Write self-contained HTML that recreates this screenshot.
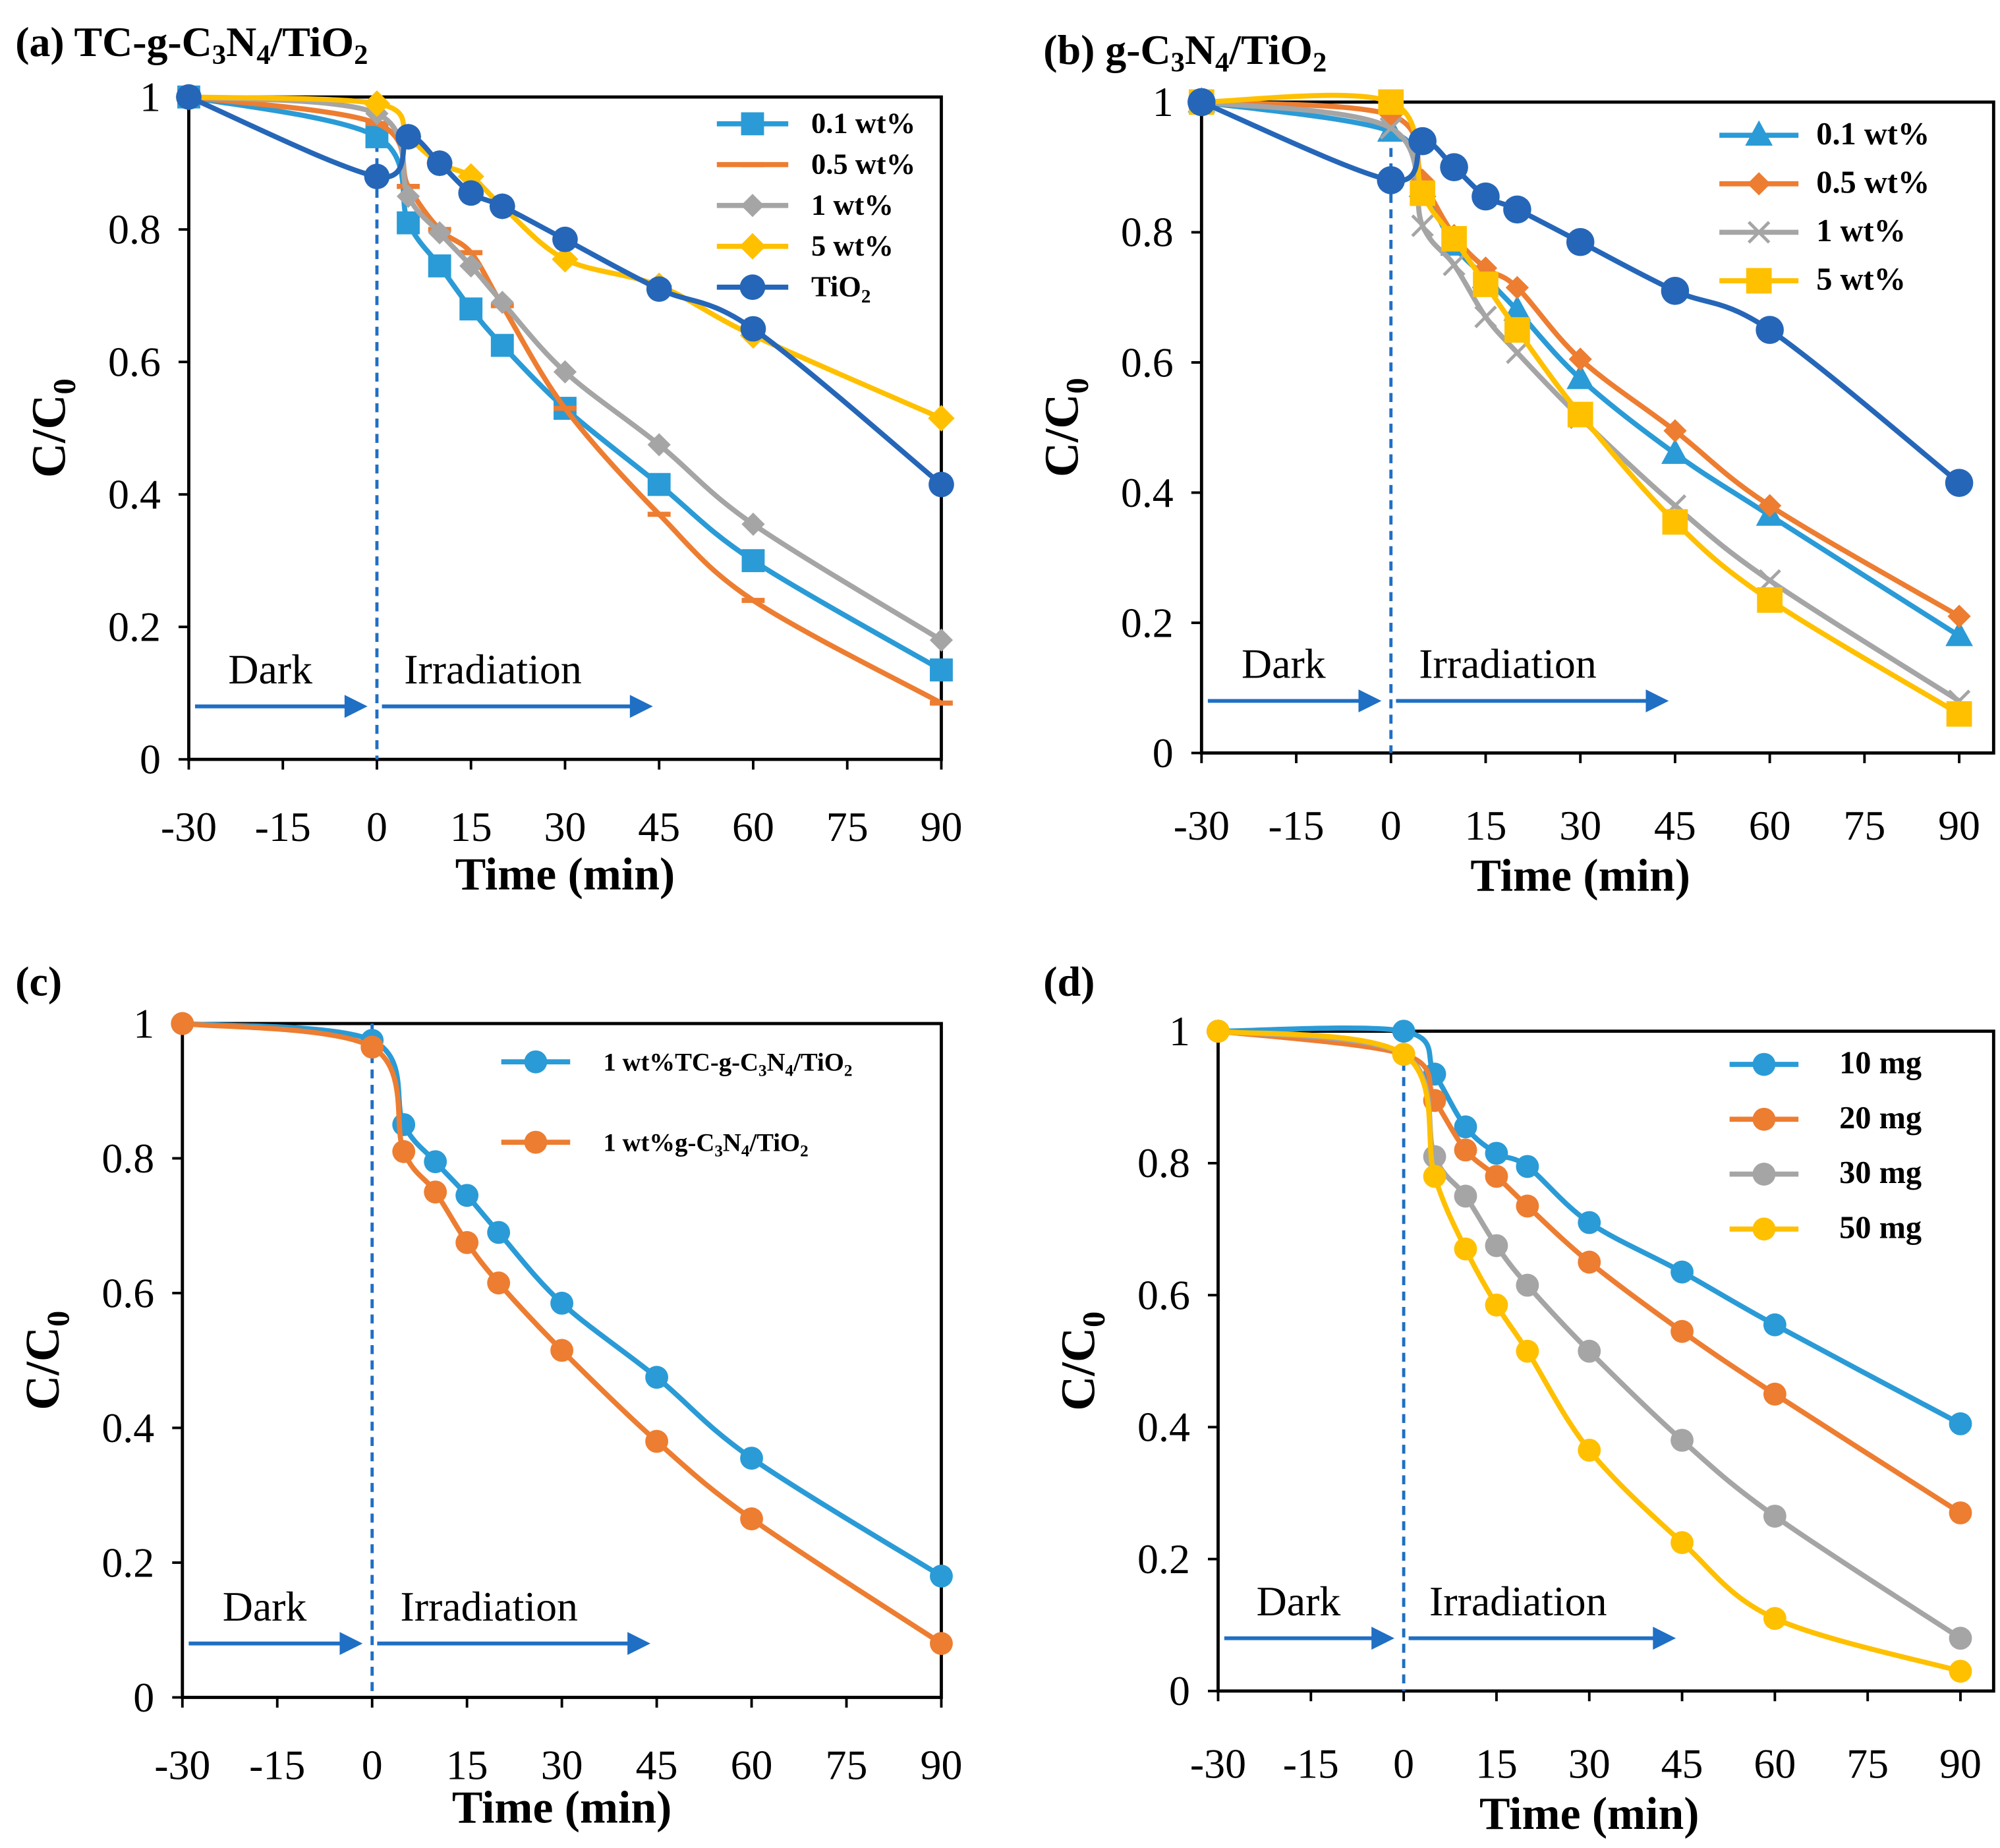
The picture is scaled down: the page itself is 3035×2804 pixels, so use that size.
<!DOCTYPE html>
<html><head><meta charset="utf-8"><style>
html,body{margin:0;padding:0;background:#fff;}
svg{display:block;}
text{font-family:"Liberation Serif",serif;fill:#000;}
</style></head><body>
<svg id="fig" width="3035" height="2804" viewBox="0 0 1568 1448" preserveAspectRatio="none" xmlns="http://www.w3.org/2000/svg"></svg>
<script>
const times = [-30, 0, 5, 10, 15, 20, 30, 45, 60, 90];
const xTicks = [-30, -15, 0, 15, 30, 45, 60, 75, 90];
const yTicks = [0, 0.2, 0.4, 0.6, 0.8, 1];
const yTickLabels = ["0", "0.2", "0.4", "0.6", "0.8", "1"];

const a01 = [1, 0.94, 0.81, 0.745, 0.68, 0.625, 0.53, 0.415, 0.30, 0.135];
const a05 = [1, 0.96, 0.865, 0.80, 0.765, 0.685, 0.53, 0.37, 0.24, 0.085];
const a1 = [1, 0.975, 0.85, 0.795, 0.745, 0.69, 0.585, 0.475, 0.355, 0.18];
const a5 = [1, 0.99, 0.94, 0.90, 0.88, 0.835, 0.755, 0.715, 0.64, 0.515];
const tio2 = [1, 0.88, 0.94, 0.90, 0.855, 0.835, 0.785, 0.71, 0.65, 0.415];

const b01 = [1, 0.955, 0.87, 0.78, 0.73, 0.68, 0.575, 0.46, 0.365, 0.18];
const b05 = [1, 0.98, 0.88, 0.795, 0.745, 0.715, 0.605, 0.495, 0.38, 0.21];
const b1 = [1, 0.96, 0.81, 0.75, 0.67, 0.615, 0.515, 0.38, 0.265, 0.08];
const b5 = [1, 1.0, 0.86, 0.79, 0.72, 0.65, 0.52, 0.355, 0.235, 0.06];

const cTC = [1, 0.975, 0.85, 0.795, 0.745, 0.69, 0.585, 0.475, 0.355, 0.18];
const cG = [1, 0.965, 0.81, 0.75, 0.675, 0.615, 0.515, 0.38, 0.265, 0.08];

const d10 = [1, 1.0, 0.935, 0.855, 0.815, 0.795, 0.71, 0.635, 0.555, 0.405];
const d20 = [1, 0.965, 0.895, 0.82, 0.78, 0.735, 0.65, 0.545, 0.45, 0.27];
const d30 = [1, 0.965, 0.81, 0.75, 0.675, 0.615, 0.515, 0.38, 0.265, 0.08];
const d50 = [1, 0.965, 0.78, 0.67, 0.585, 0.515, 0.365, 0.225, 0.11, 0.03];

const BLUE="#2a9bd6", ORANGE="#ed7d31", GRAY="#a5a5a5", YELLOW="#ffc000", DBLUE="#2566b8";
const NS="http://www.w3.org/2000/svg";
const svg=document.getElementById('fig');
function el(tag,attrs,parent){const e=document.createElementNS(NS,tag);for(const k in attrs)e.setAttribute(k,attrs[k]);(parent||svg).appendChild(e);return e;}

function smoothPath(pts){
  let d="M"+pts[0][0]+","+pts[0][1];
  for(let i=0;i<pts.length-1;i++){
    const p0=pts[Math.max(0,i-1)],p1=pts[i],p2=pts[i+1],p3=pts[Math.min(pts.length-1,i+2)];
    const t=6;
    const c1=[p1[0]+(p2[0]-p0[0])/t,p1[1]+(p2[1]-p0[1])/t];
    const c2=[p2[0]-(p3[0]-p1[0])/t,p2[1]-(p3[1]-p1[1])/t];
    d+=` C${c1[0]},${c1[1]} ${c2[0]},${c2[1]} ${p2[0]},${p2[1]}`;
  }
  return d;
}
function marker(g,type,x,y,c,s){
  let m;
  if(type==="square") m=el('rect',{x:x-s,y:y-s,width:2*s,height:2*s,fill:c},g);
  else if(type==="circle") m=el('circle',{cx:x,cy:y,r:s,fill:c},g);
  else if(type==="diamond") m=el('polygon',{points:`${x},${y-s*1.3} ${x+s*1.3},${y} ${x},${y+s*1.3} ${x-s*1.3},${y}`,fill:c},g);
  else if(type==="triangle") m=el('polygon',{points:`${x},${y-s*1.3} ${x+s*1.2},${y+s*0.9} ${x-s*1.2},${y+s*0.9}`,fill:c},g);
  else if(type==="dash") m=el('rect',{x:x-s,y:y-2,width:2*s,height:4,fill:c},g);
  else if(type==="x"){m=el('path',{d:`M${x-s},${y-s}L${x+s},${y+s}M${x-s},${y+s}L${x+s},${y-s}`,stroke:c,'stroke-width':2.5,fill:'none'},g);}
  
  
}

function panel(cfg){
  const g=el('g',{});
  
  
  const X=v=>cfg.x0+(v+30)/120*(cfg.x1-cfg.x0);
  const Y=v=>cfg.y0-v*(cfg.y0-cfg.y1);
  const fr=el('rect',{x:cfg.x0,y:cfg.y1,width:cfg.fr-cfg.x0,height:cfg.y0-cfg.y1,fill:'none',stroke:'#000','stroke-width':2.5},g);
  
  xTicks.forEach(t=>{
    const tk=el('line',{x1:X(t),x2:X(t),y1:cfg.y0,y2:cfg.y0+8,stroke:'#000','stroke-width':2},g);
    
    const tx=el('text',{x:X(t),y:cfg.y0+cfg.xlOff,'font-size':33,'text-anchor':'middle'},g);tx.textContent=t;
    
  });
  yTicks.forEach((t,i)=>{
    const tk=el('line',{x1:cfg.x0-8,x2:cfg.x0,y1:Y(t),y2:Y(t),stroke:'#000','stroke-width':2},g);
    
    const tx=el('text',{x:cfg.x0-22,y:Y(t)+11,'font-size':33,'text-anchor':'end'},g);tx.textContent=yTickLabels[i];
    
  });
  const xt=el('text',{x:(cfg.x0+cfg.x1)/2,y:cfg.y0+cfg.xtOff,'font-size':36,'font-weight':'bold','text-anchor':'middle'},g);
  xt.textContent='Time (min)';
  const yc=(cfg.y0+cfg.y1)/2, yx=cfg.x0-97;
  const yt=el('text',{x:yx,y:yc,'font-size':38,'font-weight':'bold','text-anchor':'middle',transform:`rotate(-90 ${yx} ${yc})`},g);
  yt.innerHTML='C/C<tspan font-size="25" dy="8">0</tspan>';
  
  const pt=el('text',{x:cfg.tx,y:cfg.ty,'font-size':33,'font-weight':'bold'},g);
  pt.innerHTML=cfg.title;
  const dl=el('line',{x1:X(0),x2:X(0),y1:Y(1),y2:cfg.y0,stroke:'#1f6fc4','stroke-width':2.5,'stroke-dasharray':'7,5'},g);
  
  const ay=Y(0.08)+cfg.arrOff;
  [[-29,-1.5,'dark-arrow'],[0.8,44,'irradiation-arrow']].forEach(([a,b,n])=>{
    const ln=el('line',{x1:X(a),x2:X(b)-14,y1:ay,y2:ay,stroke:'#1f6fc4','stroke-width':3},g);
    
    const hd=el('polygon',{points:`${X(b)},${ay} ${X(b)-18},${ay-9} ${X(b)-18},${ay+9}`,fill:'#1f6fc4'},g);
    
  });
  const dk=el('text',{x:X(-17),y:ay-18,'font-size':33,'text-anchor':'middle'},g);dk.textContent='Dark';
  
  const ir=el('text',{x:X(18.5),y:ay-18,'font-size':33,'text-anchor':'middle'},g);ir.textContent='Irradiation';
  
  cfg.series.forEach(s=>{
    const sg=el('g',{},g);
    const pts=times.map((t,i)=>[X(t),Y(s.vals[i])]);
    const p=el('path',{d:smoothPath(pts),fill:'none',stroke:s.c,'stroke-width':4},sg);
    
    pts.forEach(q=>marker(sg,s.m,q[0],q[1],s.c,s.sz));
  });
  const L=cfg.leg;
  cfg.series.filter(s=>!s.noLeg).forEach((s,i)=>{
    const ly=L.y+i*L.dy;
    const lg=el('g',{},g);
    el('line',{x1:L.x,x2:L.x+L.w,y1:ly,y2:ly,stroke:s.c,'stroke-width':4},lg);
    marker(lg,s.m,L.x+L.w/2,ly,s.c,s.sz);
    const t=el('text',{x:L.x+L.w+L.gap,y:ly+7,'font-size':L.fs,'font-weight':'bold'},lg);t.innerHTML=s.label;
  });
}

panel({name:'panel-a',x0:148,x1:738,fr:738,y0:595,y1:76,xlOff:64,xtOff:102,arrOff:0,tx:12,ty:44,
  title:'(a) TC-g-C<tspan font-size="22" dy="6">3</tspan><tspan dy="-6">N</tspan><tspan font-size="22" dy="6">4</tspan><tspan dy="-6">/TiO</tspan><tspan font-size="22" dy="6">2</tspan>',
  leg:{x:562,y:97,dy:32,w:56,gap:18,fs:23},
  series:[
   {name:'series-0.1wt',vals:a01,c:BLUE,m:'square',sz:9,label:'0.1 wt%'},
   {name:'series-0.5wt',vals:a05,c:ORANGE,m:'dash',sz:9,label:'0.5 wt%'},
   {name:'series-1wt',vals:a1,c:GRAY,m:'diamond',sz:7,label:'1 wt%'},
   {name:'series-5wt',vals:a5,c:YELLOW,m:'diamond',sz:8,label:'5 wt%'},
   {name:'series-tio2',vals:tio2,c:DBLUE,m:'circle',sz:10,label:'TiO<tspan font-size="15" dy="5">2</tspan>'}]});

panel({name:'panel-b',x0:942,x1:1536,fr:1563,y0:590,y1:80,xlOff:68,xtOff:108,arrOff:0,tx:818,ty:50,
  title:'(b) g-C<tspan font-size="22" dy="6">3</tspan><tspan dy="-6">N</tspan><tspan font-size="22" dy="6">4</tspan><tspan dy="-6">/TiO</tspan><tspan font-size="22" dy="6">2</tspan>',
  leg:{x:1348,y:106,dy:38,w:62,gap:14,fs:25},
  series:[
   {name:'series-0.1wt',vals:b01,c:BLUE,m:'triangle',sz:9,label:'0.1 wt%'},
   {name:'series-0.5wt',vals:b05,c:ORANGE,m:'diamond',sz:7,label:'0.5 wt%'},
   {name:'series-1wt',vals:b1,c:GRAY,m:'x',sz:8,label:'1 wt%'},
   {name:'series-5wt',vals:b5,c:YELLOW,m:'square',sz:10,label:'5 wt%'},
   {name:'series-tio2',vals:tio2,c:DBLUE,m:'circle',sz:11,label:'',noLeg:true}]});

panel({name:'panel-c',x0:143,x1:738,fr:738,y0:1330,y1:802,xlOff:64,xtOff:98,arrOff:0,tx:12,ty:780,
  title:'(c)',
  leg:{x:393,y:832,dy:63,w:54,gap:26,fs:20},
  series:[
   {name:'series-1wt-tc',vals:cTC,c:BLUE,m:'circle',sz:9,label:'1 wt%TC-g-C<tspan font-size="13" dy="4">3</tspan><tspan dy="-4">N</tspan><tspan font-size="13" dy="4">4</tspan><tspan dy="-4">/TiO</tspan><tspan font-size="13" dy="4">2</tspan>'},
   {name:'series-1wt-g',vals:cG,c:ORANGE,m:'circle',sz:9,label:'1 wt%g-C<tspan font-size="13" dy="4">3</tspan><tspan dy="-4">N</tspan><tspan font-size="13" dy="4">4</tspan><tspan dy="-4">/TiO</tspan><tspan font-size="13" dy="4">2</tspan>'}]});

panel({name:'panel-d',x0:955,x1:1537,fr:1563,y0:1325,y1:808,xlOff:68,xtOff:108,arrOff:0,tx:818,ty:780,
  title:'(d)',
  leg:{x:1356,y:834,dy:43,w:54,gap:32,fs:25},
  series:[
   {name:'series-10mg',vals:d10,c:BLUE,m:'circle',sz:9,label:'10 mg'},
   {name:'series-20mg',vals:d20,c:ORANGE,m:'circle',sz:9,label:'20 mg'},
   {name:'series-30mg',vals:d30,c:GRAY,m:'circle',sz:9,label:'30 mg'},
   {name:'series-50mg',vals:d50,c:YELLOW,m:'circle',sz:9,label:'50 mg'}]});
</script>
</body></html>
